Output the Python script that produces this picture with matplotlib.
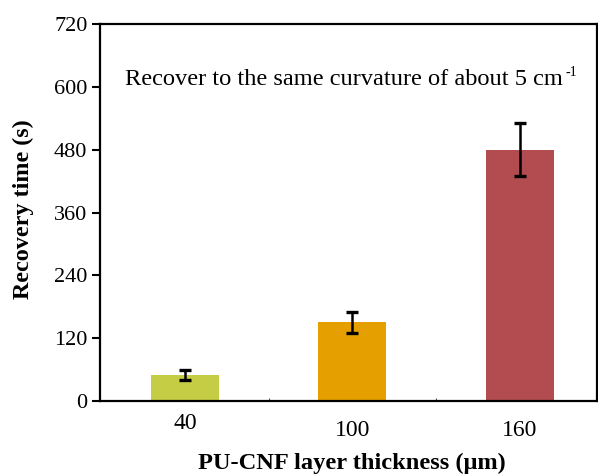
import matplotlib
matplotlib.use("Agg")
import matplotlib.pyplot as plt

thickness = [40, 100, 160]
tick_labels = ["40", "100", "160"]
recovery = [50, 150, 480]
errors = [9, 20, 50]
colors = ["#C5CD45", "#E5A000", "#B24C50"]
y_ticks = [0, 120, 240, 360, 480, 600, 720]

plt.rcParams['font.family'] = ['Liberation Serif', 'DejaVu Serif']

fig = plt.figure(figsize=(5.98, 4.74), dpi=100)
ax = fig.add_axes([100/598, 1-401/474, 497/598, 377/474])

ax.bar(thickness, recovery, width=24.4, color=colors, edgecolor='none', zorder=2)
ax.errorbar(thickness, recovery, yerr=errors, fmt='none', ecolor='black',
            elinewidth=1.8, capsize=4, capthick=2.4, zorder=3)

ax.set_xlim(9.6, 187.6)
ax.set_ylim(0, 720)
ax.set_yticks(y_ticks)
ax.set_yticklabels([str(v) for v in y_ticks], fontsize=16)
ax.tick_params(axis='y', direction='out', length=6, width=1.5, pad=3)

ax.set_xticks([40, 70, 100, 130, 160])
ax.set_xticklabels([])
ax.tick_params(axis='x', direction='in', length=2, width=0.8, color='#555555')

# tick labels as texts (first label sits slightly higher in reference)
offsets = [-16.2, -21, -21]
for x, lab, off in zip(thickness, tick_labels, offsets):
    ax.annotate(lab, xy=(x, 0), xycoords=('data', 'axes fraction'),
                xytext=(0, off), textcoords='offset points',
                ha='center', va='center', fontsize=17)

for s in ax.spines.values():
    s.set_linewidth(1.6)

fig.text(23/598, 1-209/474, "Recovery time (s)", fontsize=17.4, fontweight='bold',
         rotation=90, ha='center', va='center')
fig.text(352/598, 1-463/474, "PU-CNF layer thickness (μm)", fontsize=17.6,
         fontweight='bold', ha='center', va='center')

main = fig.text(125/598, 1-80/474, "Recover to the same curvature of about 5 cm",
                fontsize=17.6, ha='left', va='center')
fig.canvas.draw()
bb = main.get_window_extent()
fig.text((bb.x1 + 3) / 598, (bb.y1 - 3) / 474, "-1", fontsize=10,
         ha='left', va='center')

fig.savefig("out.png", dpi=100)
